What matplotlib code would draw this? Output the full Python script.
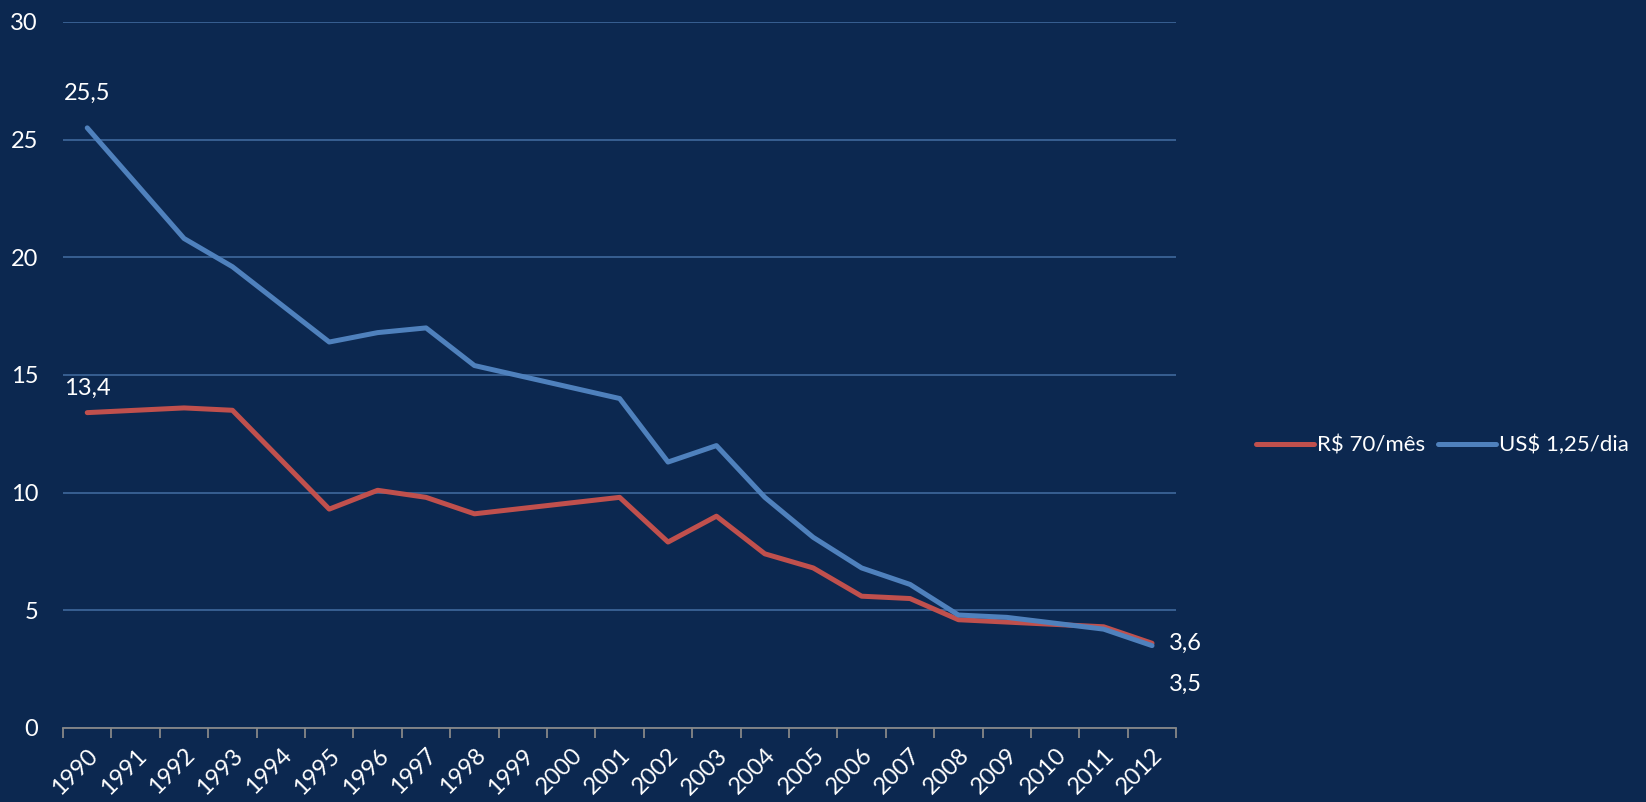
import numpy as np
import matplotlib.pyplot as plt

# years on the category axis; None = no survey that year
years = [str(y) for y in range(1990, 2013)]
rs70 = [13.4, None, 13.6, 13.5, None, 9.3, 10.1, 9.8, 9.1, None, None, 9.8,
        7.9, 9.0, 7.4, 6.8, 5.6, 5.5, 4.6, 4.5, None, 4.3, 3.6]
us125 = [25.5, None, 20.8, 19.6, None, 16.4, 16.8, 17.0, 15.4, None, None, 14.0,
         11.3, 12.0, 9.8, 8.1, 6.8, 6.1, 4.8, 4.7, None, 4.2, 3.5]
yticks = [0, 5, 10, 15, 20, 25, 30]

bg = '#0C2850'
red = '#C0504D'
blue = '#4F81BD'
plt.rcParams['font.family'] = ['Lato', 'DejaVu Sans']

fig = plt.figure(figsize=(16.46, 8.02), dpi=100, facecolor=bg)
ax = fig.add_axes([0.0383, 0.0923, 0.6763, 0.8803], facecolor=bg)

def valid(vals):
    idx = [i for i, v in enumerate(vals) if v is not None]
    return np.array(idx), np.array([vals[i] for i in idx])

xr, yr = valid(rs70)
xb, yb = valid(us125)
ax.plot(xr, yr, color=red, lw=3.6, solid_capstyle='round', solid_joinstyle='round', label='R$ 70/mês')
ax.plot(xb, yb, color=blue, lw=3.6, solid_capstyle='round', solid_joinstyle='round', label='US$ 1,25/dia')

# data labels at ends
fs = 17
def fmt(v):
    return ('%.1f' % v).replace('.', ',')
ax.annotate(fmt(yb[0]), (xb[0], yb[0]), xytext=(0, 17), textcoords='offset points',
            ha='center', va='bottom', color='white', fontsize=fs)
ax.annotate(fmt(yr[0]), (xr[0], yr[0]), xytext=(0, 10), textcoords='offset points',
            ha='center', va='bottom', color='white', fontsize=fs)
ax.annotate(fmt(yr[-1]), (xr[-1], yr[-1]), xytext=(12, 0), textcoords='offset points',
            ha='left', va='center', color='white', fontsize=fs)
ax.annotate(fmt(yb[-1]), (xb[-1], yb[-1]), xytext=(12, -28), textcoords='offset points',
            ha='left', va='center', color='white', fontsize=fs)

ax.set_xlim(-0.5, len(years) - 0.5)
ax.set_ylim(0, 30)
ax.set_yticks(yticks)
ax.set_yticklabels([str(t) for t in yticks], color='white', fontsize=fs)
ax.tick_params(axis='y', length=0, pad=18)
ax.grid(axis='y', color='#3B6396', lw=1.3)
ax.set_axisbelow(True)

ax.set_xticks(range(len(years)))
ax.set_xticklabels(years, rotation=45, ha='right', rotation_mode='anchor', color='white', fontsize=fs)
ax.tick_params(axis='x', length=0, pad=12)
ax.set_xticks(np.arange(-0.5, len(years)), minor=True)
ax.tick_params(axis='x', which='minor', length=7, width=1.3, color='#888888')

for s in ['top', 'right', 'left']:
    ax.spines[s].set_visible(False)
ax.spines['bottom'].set_color('#888888')
ax.spines['bottom'].set_linewidth(1.3)

leg = fig.legend(loc='center right', bbox_to_anchor=(1.002, 0.445), ncol=2, frameon=False,
                 fontsize=16, handlelength=2.6, handletextpad=0.15, columnspacing=0.6)
for t in leg.get_texts():
    t.set_color('white')

fig.savefig('out.png', dpi=100, facecolor=bg)
